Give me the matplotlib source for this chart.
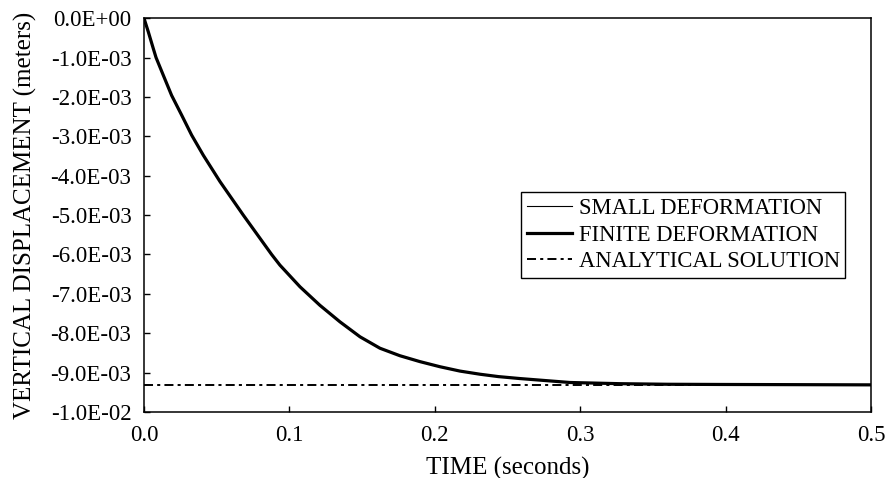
import matplotlib
matplotlib.use("Agg")
import matplotlib.pyplot as plt

plt.rcParams['font.family'] = ['Liberation Serif', 'DejaVu Serif']
plt.rcParams['lines.scale_dashes'] = False

time_s = [0.0, 0.0030, 0.0064, 0.0083, 0.0133, 0.0190, 0.0259, 0.0328, 0.0408,
          0.0523, 0.0683, 0.0878, 0.0935, 0.1073, 0.121, 0.1348, 0.1486, 0.1623,
          0.176, 0.1898, 0.2036, 0.2173, 0.2311, 0.2437, 0.2586, 0.293, 0.327,
          0.36, 0.396, 0.45, 0.5]
small_def = [0.0, -0.35e-3, -0.77e-3, -1.0e-3, -1.45e-3, -1.96e-3, -2.46e-3, -2.97e-3,
             -3.48e-3, -4.15e-3, -5.0e-3, -6.0e-3, -6.27e-3, -6.82e-3, -7.29e-3,
             -7.71e-3, -8.09e-3, -8.38e-3, -8.57e-3, -8.72e-3, -8.85e-3, -8.96e-3,
             -9.04e-3, -9.10e-3, -9.15e-3, -9.25e-3, -9.28e-3, -9.295e-3, -9.30e-3,
             -9.305e-3, -9.31e-3]
finite_def = [0.0, -0.35e-3, -0.77e-3, -1.0e-3, -1.45e-3, -1.96e-3, -2.46e-3, -2.97e-3,
              -3.48e-3, -4.15e-3, -5.0e-3, -6.0e-3, -6.27e-3, -6.82e-3, -7.29e-3,
              -7.71e-3, -8.09e-3, -8.38e-3, -8.57e-3, -8.72e-3, -8.85e-3, -8.96e-3,
              -9.04e-3, -9.10e-3, -9.15e-3, -9.25e-3, -9.28e-3, -9.295e-3, -9.30e-3,
              -9.305e-3, -9.31e-3]
analytical_t = [0.0, 0.5]
analytical_y = [-9.31e-3, -9.31e-3]

x_ticks = [0.0, 0.1, 0.2, 0.3, 0.4, 0.5]
y_ticks = [0.0, -1e-3, -2e-3, -3e-3, -4e-3, -5e-3, -6e-3, -7e-3, -8e-3, -9e-3, -1e-2]
y_tick_labels = ['0.0E+00', '-1.0E-03', '-2.0E-03', '-3.0E-03', '-4.0E-03', '-5.0E-03',
                 '-6.0E-03', '-7.0E-03', '-8.0E-03', '-9.0E-03', '-1.0E-02']

fig = plt.figure(figsize=(8.86, 4.78), dpi=100)
ax = fig.add_axes([0.1625, 0.138, 0.8205, 0.824])

ax.plot(analytical_t, analytical_y, color='black', lw=1.4,
        linestyle=(0, (6.5, 3.0, 2.2, 3.0)), label='ANALYTICAL SOLUTION', zorder=2)
ax.plot(time_s, finite_def, color='black', lw=2.3, label='FINITE DEFORMATION', zorder=3)
ax.plot(time_s, small_def, color='black', lw=0.8, label='SMALL DEFORMATION', zorder=4)

ax.set_xlim(0, 0.5)
ax.set_ylim(-0.01, 0.0)
ax.set_xticks(x_ticks)
ax.set_xticklabels([f'{v:.1f}' for v in x_ticks])
ax.set_yticks(y_ticks)
ax.set_yticklabels(y_tick_labels)
ax.tick_params(direction='in', length=4, width=1, labelsize=16.5, top=False, right=False)
ax.tick_params(axis='y', pad=9)
ax.tick_params(axis='x', pad=9)
for s in ax.spines.values():
    s.set_linewidth(1.1)

ax.set_xlabel('TIME (seconds)', fontsize=18, labelpad=8)
ax.set_ylabel('VERTICAL DISPLACEMENT (meters)', fontsize=18, labelpad=10)

h, l = ax.get_legend_handles_labels()
order = [2, 1, 0]
leg = ax.legend([h[i] for i in order], [l[i] for i in order],
                loc='upper left', bbox_to_anchor=(0.5186, 0.558), fontsize=16.3,
                frameon=True, fancybox=False, edgecolor='black', framealpha=1,
                handlelength=2.0, handletextpad=0.3, labelspacing=0.25,
                borderpad=0.25, borderaxespad=0)
leg.get_frame().set_linewidth(1.0)

fig.savefig('out.png', dpi=100)
